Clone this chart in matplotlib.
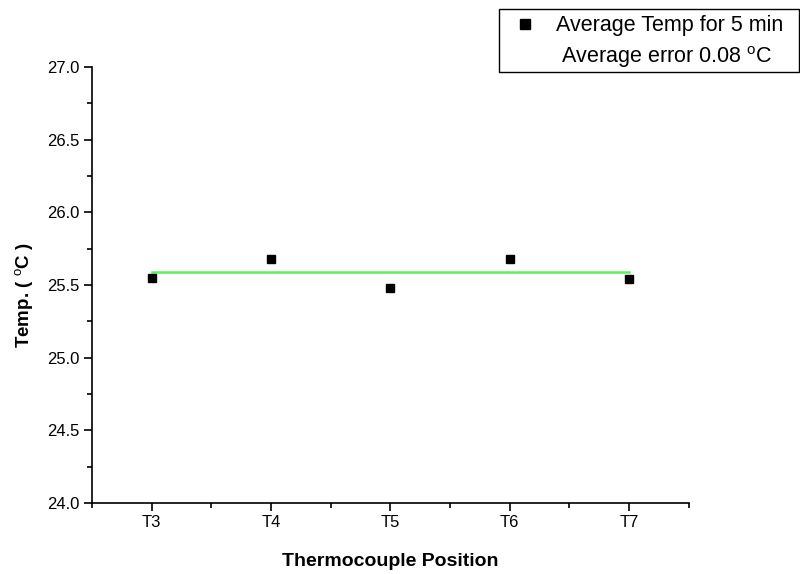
import matplotlib
matplotlib.use("Agg")
import matplotlib.pyplot as plt
from matplotlib.patches import Rectangle
from matplotlib.lines import Line2D
from matplotlib.ticker import MultipleLocator, FormatStrFormatter

plt.rcParams['font.family'] = ['Liberation Sans', 'DejaVu Sans']
plt.rcParams['mathtext.fontset'] = 'custom'
plt.rcParams['mathtext.rm'] = 'Liberation Sans'
plt.rcParams['mathtext.it'] = 'Liberation Sans'
plt.rcParams['mathtext.bf'] = 'Liberation Sans:bold'

positions = ["T3", "T4", "T5", "T6", "T7"]
avg_temp = [25.55, 25.68, 25.48, 25.68, 25.54]
mean_line = [25.59, 25.59]

fig = plt.figure(figsize=(8, 5.74), dpi=100)
ax = fig.add_axes([0.115, 0.1237, 0.746, 0.7596])

x = list(range(len(positions)))
ax.plot([x[0], x[-1]], mean_line, color='#5cf05c', lw=1.8, zorder=2)
ax.plot(x, avg_temp, linestyle='none', marker='s', markersize=6, color='black', zorder=3)

ax.set_xlim(-0.5, len(positions) - 0.5)
ax.set_ylim(24.0, 27.0)
ax.set_xticks(x)
ax.set_xticklabels(positions)
ax.xaxis.set_minor_locator(MultipleLocator(0.5))
ax.yaxis.set_major_locator(MultipleLocator(0.5))
ax.yaxis.set_minor_locator(MultipleLocator(0.25))
ax.yaxis.set_major_formatter(FormatStrFormatter('%.1f'))

for s in ['top', 'right']:
    ax.spines[s].set_visible(False)
for s in ['left', 'bottom']:
    ax.spines[s].set_linewidth(1.2)

ax.tick_params(axis='both', which='major', direction='out', length=6, width=1.2, labelsize=12)
ax.tick_params(axis='both', which='minor', direction='out', length=3.5, width=1.2)
ax.tick_params(axis='x', which='major', pad=3)
ax.tick_params(axis='y', which='major', pad=3)

ax.set_xlabel('Thermocouple Position', fontsize=14, fontweight='bold', labelpad=16)
ax.set_ylabel(r'Temp. ( $^{\mathrm{o}}$C )', fontsize=13.5, fontweight='bold')
ax.yaxis.set_label_coords(-0.095, 0.477)

# legend box (figure coords)
W, H = 800, 574
fig.patches.append(Rectangle((499 / W, 1 - 72 / H), 300 / W, 63 / H,
                             transform=fig.transFigure, fill=False,
                             edgecolor='black', lw=1.0))
fig.lines.append(Line2D([525 / W], [1 - 24 / H], transform=fig.transFigure,
                        marker='s', markersize=7, color='black', linestyle='none'))
fig.text(556 / W, 1 - 25 / H, 'Average Temp for 5 min', fontsize=15.5,
         va='center', ha='left')
fig.text(561 / W, 1 - 57 / H, r'Average error 0.08 $^{\mathrm{o}}$C', fontsize=15.5,
         va='center', ha='left')

fig.savefig('out.png', dpi=100)
